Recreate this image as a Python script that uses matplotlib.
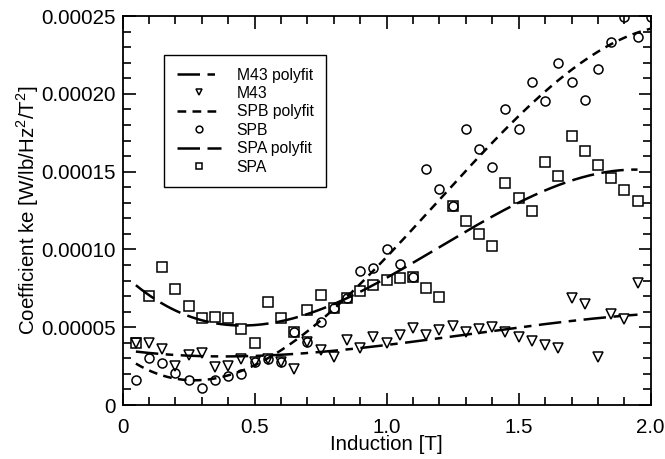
import numpy as np
import matplotlib
matplotlib.use('Agg')
import matplotlib.pyplot as plt
from matplotlib.ticker import MultipleLocator, FuncFormatter

plt.rcParams['font.family'] = ['Liberation Sans', 'DejaVu Sans']
plt.rcParams['mathtext.fontset'] = 'custom'
plt.rcParams['mathtext.rm'] = 'Liberation Sans'

# induction values [T]
b_m43 = np.arange(1, 40) * 0.05
b_spa = np.arange(1, 40) * 0.05
b_spb = np.arange(1, 41) * 0.05

# coefficient ke, units of 1e-5
m43 = [3.97, 3.97, 3.58, 2.53, 3.21, 3.32, 2.46, 2.53, 2.94, 2.78,
       2.94, 2.74, 2.33, 4.07, 3.53, 3.10, 4.15, 3.67, 4.39, 3.96,
       4.50, 4.93, 4.50, 4.82, 5.08, 4.71, 4.88, 5.03, 4.67, 4.39,
       4.13, 3.86, 3.64, 6.90, 6.47, 3.06, 5.83, 5.50, 7.86]
spb = [1.61, 3.04, 2.68, 2.04, 1.59, 1.11, 1.61, 1.88, 1.99, 2.78,
       2.94, 2.74, 4.71, 4.07, 5.35, 6.21, 6.90, 8.63, 8.83, 10.0,
       9.06, 8.25, 15.15, 13.88, 12.80, 17.74, 16.43, 15.30, 19.0, 17.76,
       20.78, 19.54, 22.0, 20.78, 19.6, 21.57, 23.35, 24.95, 23.67, 24.95]
spa = [4.0, 7.0, 8.9, 7.45, 6.36, 5.57, 5.68, 5.61, 4.9, 4.0,
       6.62, 5.59, 4.71, 6.12, 7.10, 6.21, 6.90, 7.35, 7.73, 8.01,
       8.14, 8.25, 7.54, 6.92, 12.79, 11.83, 10.97, 10.2, 14.25, 13.3,
       12.47, 15.6, 14.7, 17.3, 16.3, 15.4, 14.6, 13.8, 13.1]

series = [
    ('M43', b_m43, m43, 'v', (0, (9, 3, 3, 3))),
    ('SPB', b_spb, spb, 'o', (0, (3.5, 2.5))),
    ('SPA', b_spa, spa, 's', (0, (9, 3))),
]

fig = plt.figure(figsize=(6.65, 4.59), dpi=100)
ax = fig.add_axes([0.1845, 0.1176, 0.794, 0.8474])

for name, bx, vals, mk, ls in series:
    y = np.array(vals) * 1e-5
    coef = np.polyfit(bx, y, 3)
    xf = np.linspace(bx[0], bx[-1], 200)
    ax.plot(xf, np.polyval(coef, xf), color='black', linestyle=ls, linewidth=1.8,
            label=f'{name} polyfit')
    ax.plot(bx, y, linestyle='none', marker=mk, markersize=6.5, markerfacecolor='none',
            markeredgecolor='black', markeredgewidth=1.1, label=name)

ax.set_xlim(0, 2.0)
ax.set_ylim(0, 0.00025)
ax.xaxis.set_major_locator(MultipleLocator(0.5))
ax.xaxis.set_minor_locator(MultipleLocator(0.1))
ax.yaxis.set_major_locator(MultipleLocator(0.00005))
ax.yaxis.set_minor_locator(MultipleLocator(0.00001))
ax.xaxis.set_major_formatter(FuncFormatter(lambda v, p: '0' if abs(v) < 1e-9 else f'{v:.1f}'))
ax.yaxis.set_major_formatter(FuncFormatter(lambda v, p: '0' if abs(v) < 1e-12 else f'{v:.5f}'))
ax.tick_params(which='both', direction='in', top=True, right=True, labelsize=14.8, width=1.2)
ax.tick_params(which='major', length=9)
ax.tick_params(which='minor', length=6)
ax.tick_params(axis='x', which='major', pad=9)
ax.tick_params(axis='y', which='major', pad=5)
for sp in ax.spines.values():
    sp.set_linewidth(1.3)

ax.set_xlabel('Induction [T]', fontsize=14.8, labelpad=-1)
ax.set_ylabel('Coefficient ke [W/lb/Hz$^2$/T$^2$]', fontsize=14.8, labelpad=0)

leg = ax.legend(loc='upper left', bbox_to_anchor=(0.079, 0.9), borderaxespad=0,
                fontsize=11.3, handlelength=2.8, handletextpad=1.0, labelspacing=0.22,
                fancybox=False, edgecolor='black', framealpha=1, markerscale=0.75,
                borderpad=0.8)
leg.get_frame().set_linewidth(1.0)

plt.savefig('out.png', dpi=100)
plt.close()
